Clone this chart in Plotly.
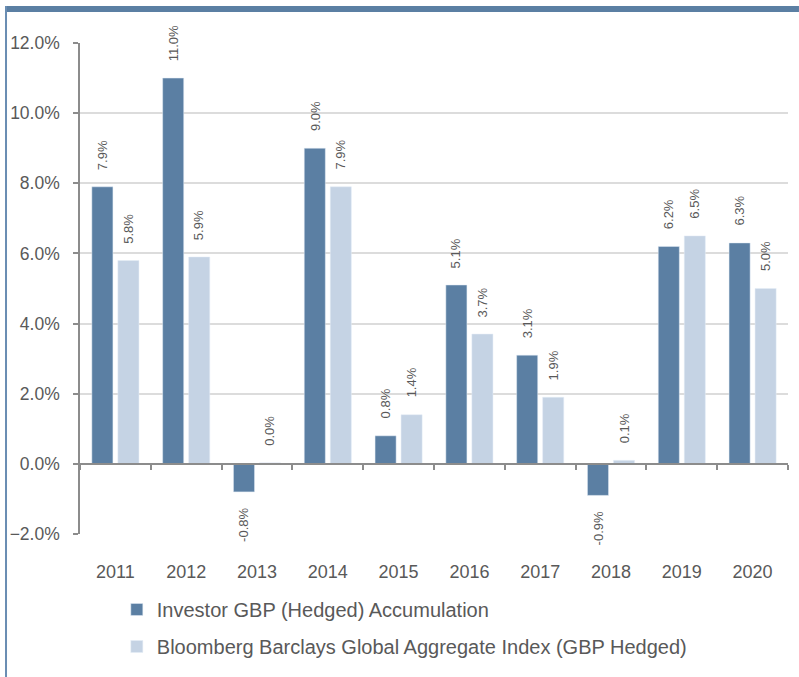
import plotly.graph_objects as go

years = ["2011", "2012", "2013", "2014", "2015", "2016", "2017", "2018", "2019", "2020"]
fund = [7.9, 11.0, -0.8, 9.0, 0.8, 5.1, 3.1, -0.9, 6.2, 6.3]
index = [5.8, 5.9, 0.03, 7.9, 1.4, 3.7, 1.9, 0.1, 6.5, 5.0]
fund_name = "Investor GBP (Hedged) Accumulation"
index_name = "Bloomberg Barclays Global Aggregate Index (GBP Hedged)"

DARK = "#5b7fa3"
LIGHT = "#c5d3e4"
TXT = "#595959"
AX = "#8c8c8c"
FONT = "Liberation Sans, Arial, sans-serif"

fig = go.Figure()
fig.add_trace(go.Bar(x=years, y=fund, name=fund_name, marker_color=DARK,
                     legendgroup="a", hoverinfo="skip"))
fig.add_trace(go.Bar(x=years, y=index, name=index_name, marker_color=LIGHT,
                     legendgroup="b", hoverinfo="skip"))
# invisible helper so the zero-level axis (with boundary ticks) is drawn
fig.add_trace(go.Scatter(x=years, y=[0] * len(years), xaxis="x2", mode="markers",
                         marker=dict(opacity=0), showlegend=False, hoverinfo="skip"))

ann = []
for series, shift in ((fund, -13), (index, 13)):
    for i, v in enumerate(series):
        pos = v >= 0
        ann.append(dict(x=i, y=v, xref="x", yref="y", text=f"{v:.1f}%", showarrow=False,
                        textangle=-90, xshift=shift, yshift=15 if pos else -14,
                        yanchor="bottom" if pos else "top", xanchor="center",
                        font=dict(size=13, color=TXT, family=FONT)))

fig.update_layout(
    width=799, height=677,
    margin=dict(l=80, r=11, t=43, b=143, autoexpand=False),
    paper_bgcolor="white", plot_bgcolor="white",
    font=dict(family=FONT, color=TXT),
    barmode="group", bargap=0.265, bargroupgap=0.19,
    annotations=ann,
    xaxis=dict(type="category", range=[-0.5, 9.5], showline=False, ticks="",
               showgrid=False, zeroline=False, ticklabelstandoff=25,
               tickfont=dict(size=18, color=TXT, family=FONT)),
    xaxis2=dict(type="category", range=[-0.5, 9.5], overlaying="x", anchor="free",
                position=2 / 14, side="bottom", showline=True, linecolor=AX, linewidth=1.5,
                ticks="outside", ticklen=5, tickcolor=AX, tickwidth=1.5,
                tickson="boundaries", showticklabels=False, showgrid=False, zeroline=False),
    yaxis=dict(range=[-2, 12], dtick=2, tick0=0, tickformat=".1f", ticksuffix="%",
               showline=True, linecolor=AX, linewidth=1.5, ticks="outside", ticklen=5,
               tickcolor=AX, tickwidth=1.5, showgrid=True, gridcolor="#dcdcdc", gridwidth=1.5,
               zeroline=True, zerolinecolor=AX, zerolinewidth=1.5, ticklabelstandoff=10,
               tickfont=dict(size=17.5, color=TXT, family=FONT)),
    legend=dict(orientation="v", x=0.052, xanchor="left", y=-0.114, yanchor="top",
                traceorder="grouped", tracegroupgap=8,
                font=dict(size=20, color=TXT, family=FONT), bgcolor="rgba(0,0,0,0)"),
    shapes=[
        dict(type="rect", xref="paper", yref="paper", x0=-0.1059, x1=1.0155,
             y0=1.0631, y1=1.0754, fillcolor=DARK, line=dict(width=0), layer="above"),
        dict(type="line", xref="paper", yref="paper", x0=-0.1045, x1=-0.1045,
             y0=-0.30, y1=1.0754, line=dict(color="#6a8db3", width=2), layer="above"),
    ],
)

fig.write_html("out.html", config={"displayModeBar": False},
               post_script="document.body.style.margin='0';document.body.style.overflow='hidden';")
